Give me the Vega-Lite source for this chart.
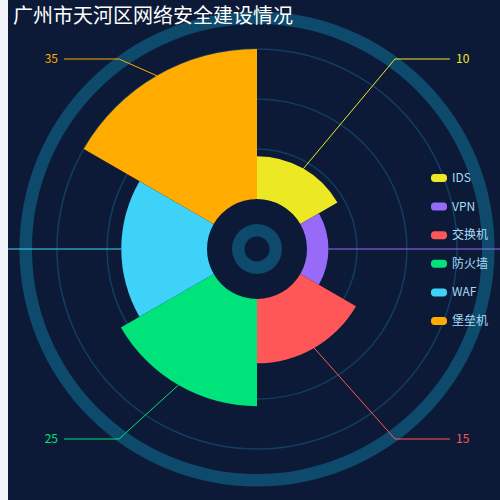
{
  "$schema": "https://vega.github.io/schema/vega-lite/v6.json",
  "width": 492,
  "height": 500,
  "autosize": "none",
  "padding": {"left": 8, "top": 0, "right": 0, "bottom": 0},
  "background": "#f0f3f8",
  "title": {
    "text": "广州市天河区网络安全建设情况",
    "anchor": "start",
    "frame": "group",
    "color": "#ffffff",
    "font": "Noto Sans CJK SC",
    "fontSize": 20,
    "fontWeight": "normal",
    "offset": -27,
    "dx": 5
  },
  "datasets": {
    "security": [
      {"category": "IDS", "value": 10},
      {"category": "VPN", "value": 5},
      {"category": "交换机", "value": 15},
      {"category": "防火墙", "value": 25},
      {"category": "WAF", "value": 20},
      {"category": "堡垒机", "value": 35}
    ],
    "grid": [{"r": 40}, {"r": 60}, {"r": 80}],
    "rings": [{"r0": 5, "r1": 10}, {"r0": 90, "r1": 95}]
  },
  "layer": [
    {
      "layer": [
        {
          "data": {"name": "rings"},
          "mark": {"type": "arc", "theta": 0, "theta2": 6.2832, "color": "#0d4a6b", "stroke": null},
          "encoding": {
            "x": {"datum": 0, "type": "quantitative", "scale": {"domain": [-99.6, 97.2], "nice": false, "zero": false}, "axis": null},
            "y": {"datum": 0, "type": "quantitative", "scale": {"domain": [-100.4, 99.6], "nice": false, "zero": false}, "axis": null},
            "radius": {"field": "r1", "type": "quantitative", "scale": {"type": "linear", "domain": [0, 100], "range": [0, 250], "nice": false}},
            "radius2": {"field": "r0"}
          }
        },
        {
          "data": {"name": "grid"},
          "transform": [
            {"calculate": "datum.r - 0.3", "as": "g0"},
            {"calculate": "datum.r + 0.3", "as": "g1"}
          ],
          "mark": {"type": "arc", "theta": 0, "theta2": 6.2832, "color": "#113d60", "stroke": null},
          "encoding": {
            "x": {"datum": 0, "type": "quantitative"},
            "y": {"datum": 0, "type": "quantitative"},
            "radius": {"field": "g1", "type": "quantitative"},
            "radius2": {"field": "g0"}
          }
        }
      ]
    },
    {
      "data": {"name": "security"},
      "transform": [
        {"window": [{"op": "row_number", "as": "idx"}]},
        {"calculate": "datum.idx - 1", "as": "start"},
        {"calculate": "(datum.idx - 0.5) * PI / 3", "as": "a"},
        {"calculate": "20 + 60 * datum.value / 35", "as": "r"},
        {"calculate": "datum.r * sin(datum.a)", "as": "sx"},
        {"calculate": "datum.r * cos(datum.a)", "as": "sy"},
        {"calculate": "round(cos(datum.a))", "as": "c"},
        {"calculate": "sin(datum.a) > 0 ? 1 : -1", "as": "s"},
        {"calculate": "datum.s * 55.2", "as": "ex"},
        {"calculate": "datum.c * 76", "as": "ey"},
        {"calculate": "datum.s * (datum.c == 0 ? 110 : 77.2)", "as": "fx"},
        {"calculate": "datum.s * 79.6", "as": "tx"}
      ],
      "layer": [
        {
          "mark": {"type": "arc", "stroke": null},
          "encoding": {
            "x": {"datum": 0, "type": "quantitative"},
            "y": {"datum": 0, "type": "quantitative"},
            "theta": {"field": "start", "type": "quantitative", "stack": null, "scale": {"domain": [0, 6], "range": [0, 6.2832], "nice": false}},
            "theta2": {"field": "idx"},
            "radius": {"field": "value", "type": "quantitative", "scale": {"type": "linear", "domain": [0, 35], "range": [50, 200], "nice": false}},
            "radius2": {"datum": 0},
            "color": {
              "field": "category",
              "type": "nominal",
              "scale": {
                "domain": ["IDS", "VPN", "交换机", "防火墙", "WAF", "堡垒机"],
                "range": ["#ece924", "#976bf8", "#ff5757", "#00e27a", "#3ed2f9", "#ffab00"]
              },
              "legend": {
                "orient": "none",
                "legendX": 423,
                "legendY": 170,
                "title": null,
                "symbolType": "M-0.6,-0.5H0.6A0.4,0.4 0 0 1 1,-0.1V0.1A0.4,0.4 0 0 1 0.6,0.5H-0.6A0.4,0.4 0 0 1 -1,0.1V-0.1A0.4,0.4 0 0 1 -0.6,-0.5Z",
                "symbolSize": 256,
                "symbolStrokeWidth": 0,
                "symbolOpacity": 1,
                "labelColor": "#a7dcf5",
                "labelFont": "Noto Sans CJK SC",
                "labelFontSize": 12,
                "labelOffset": 5,
                "rowPadding": 14.6
              }
            }
          }
        },
        {
          "mark": {"type": "rule", "strokeWidth": 1, "clip": true},
          "encoding": {
            "x": {"field": "sx", "type": "quantitative"},
            "y": {"field": "sy", "type": "quantitative"},
            "x2": {"field": "ex"},
            "y2": {"field": "ey"},
            "stroke": {
              "field": "category",
              "type": "nominal",
              "scale": {
                "domain": ["IDS", "VPN", "交换机", "防火墙", "WAF", "堡垒机"],
                "range": ["#ece924", "#976bf8", "#ff5757", "#00e27a", "#3ed2f9", "#ffab00"]
              },
              "legend": null
            }
          }
        },
        {
          "mark": {"type": "rule", "strokeWidth": 1, "clip": true},
          "encoding": {
            "x": {"field": "ex", "type": "quantitative"},
            "x2": {"field": "fx"},
            "y": {"field": "ey", "type": "quantitative"},
            "stroke": {"field": "category", "type": "nominal", "legend": null}
          }
        },
        {
          "transform": [{"filter": "datum.c != 0 && datum.s > 0"}],
          "mark": {"type": "text", "align": "left", "baseline": "middle", "font": "Noto Sans CJK SC", "fontSize": 12},
          "encoding": {
            "x": {"field": "tx", "type": "quantitative"},
            "y": {"field": "ey", "type": "quantitative"},
            "text": {"field": "value", "type": "quantitative"},
            "fill": {
              "field": "category",
              "type": "nominal",
              "scale": {
                "domain": ["IDS", "VPN", "交换机", "防火墙", "WAF", "堡垒机"],
                "range": ["#ece924", "#976bf8", "#ff5757", "#00e27a", "#3ed2f9", "#ffab00"]
              },
              "legend": null
            }
          }
        },
        {
          "transform": [{"filter": "datum.c != 0 && datum.s < 0"}],
          "mark": {"type": "text", "align": "right", "baseline": "middle", "font": "Noto Sans CJK SC", "fontSize": 12},
          "encoding": {
            "x": {"field": "tx", "type": "quantitative"},
            "y": {"field": "ey", "type": "quantitative"},
            "text": {"field": "value", "type": "quantitative"},
            "fill": {"field": "category", "type": "nominal", "legend": null}
          }
        }
      ]
    }
  ],
  "resolve": {"scale": {"radius": "independent"}},
  "config": {
    "view": {"fill": "#0c1a37", "stroke": null}
  }
}
